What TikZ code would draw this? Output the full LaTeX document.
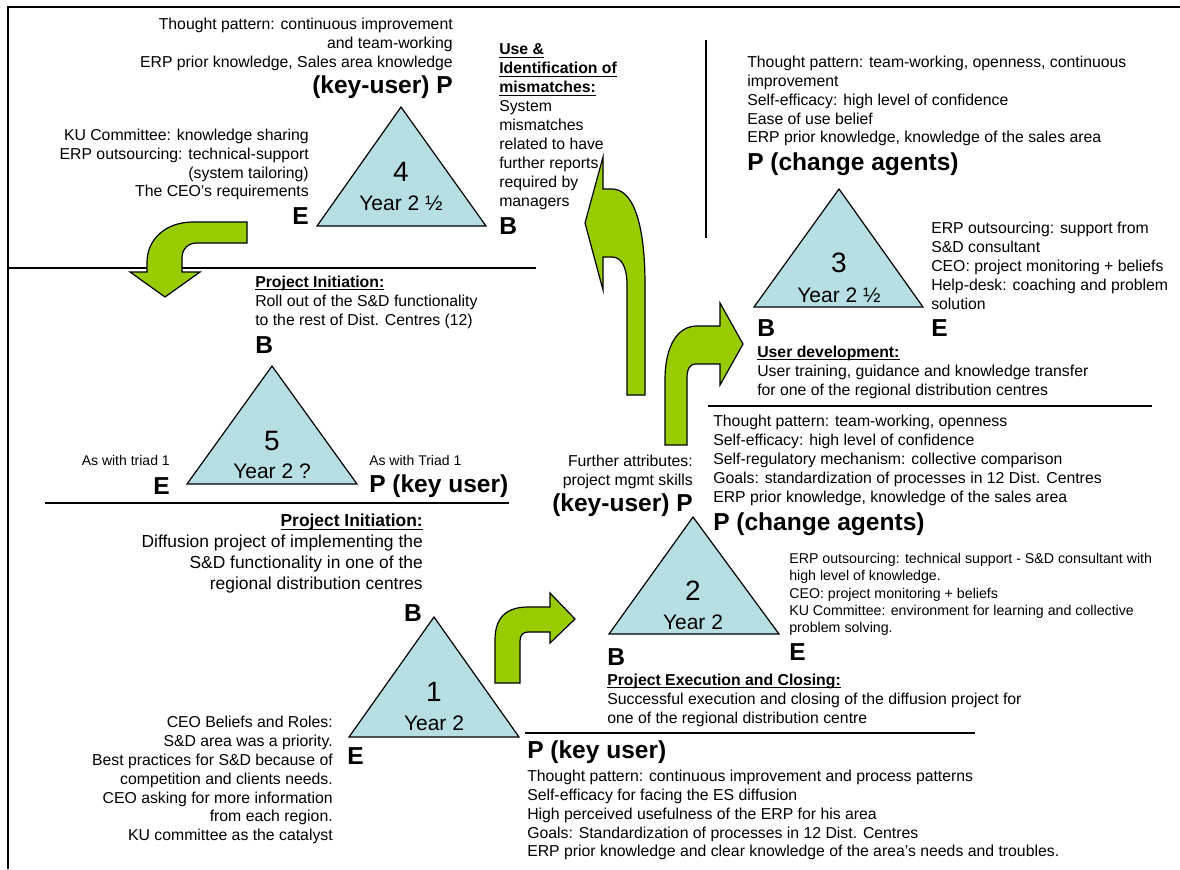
\documentclass[tikz,border=0pt]{standalone}
\usepackage{fontspec}
\setmainfont{Liberation Sans}
\newsavebox{\hdrbox}
\newcommand{\hdr}[1]{\sbox{\hdrbox}{\textbf{#1}}\rlap{\rule[-2.3pt]{\wd\hdrbox}{0.75pt}}\usebox{\hdrbox}}
\definecolor{tri}{RGB}{183,222,226}
\definecolor{grn}{RGB}{153,204,0}
\begin{document}
\begin{tikzpicture}[x=0.75pt,y=-0.75pt,
  txt/.style={inner sep=0pt, font=\fontsize{11.85}{14.2}\selectfont},
  sml/.style={inner sep=0pt, font=\fontsize{10.65}{12.9}\selectfont},
  tny/.style={inner sep=0pt, font=\fontsize{10.5}{12.6}\selectfont},
  lrg/.style={inner sep=0pt, font=\fontsize{13.05}{15.75}\selectfont},
  big/.style={inner sep=0pt, font=\fontsize{18.4}{22}\selectfont\bfseries},
  dig/.style={inner sep=0pt, font=\fontsize{21}{25}\selectfont},
  yr/.style={inner sep=0pt, font=\fontsize{15.75}{19}\selectfont},
  triad/.style={draw=black, line width=0.9pt, fill=tri, line join=miter},
  barrow/.style={draw=black, line width=0.9pt, fill=grn, line join=miter},
  sepline/.style={line width=1.1pt},
  frameline/.style={line width=1.7pt},
]
\useasboundingbox (0,0) rectangle (1180,869);
% frame
\coordinate (fa) at (8,869); \coordinate (fb) at (8,7); \coordinate (fc) at (1180,7);
\draw[frameline] (fa) -- (fb) -- (fc);
% separators
\coordinate (s1a) at (8,268);   \coordinate (s1b) at (536,268);
\coordinate (s2a) at (706,40);  \coordinate (s2b) at (706,238);
\coordinate (s3a) at (708,406); \coordinate (s3b) at (1152,406);
\coordinate (s4a) at (45,503);  \coordinate (s4b) at (509,503);
\coordinate (s5a) at (525,733); \coordinate (s5b) at (975,733);
\draw[sepline] (s1a) -- (s1b);
\draw[sepline] (s2a) -- (s2b);
\draw[sepline] (s3a) -- (s3b);
\draw[sepline] (s4a) -- (s4b);
\draw[sepline] (s5a) -- (s5b);

% green arrows
\draw[barrow] (247,222) -- (193,222) .. controls (165,222) and (147,240) .. (147,262) -- (147,272) -- (130,272) -- (165,297) -- (200,272) -- (182,272) -- (182,258) .. controls (182,249) and (188,243) .. (197,243) -- (247,243) -- cycle;
\draw[barrow] (645,395) -- (645,285) .. controls (645,220) and (632,189) .. (612,189) -- (603,189) -- (603,157) -- (585,223) -- (603,290) -- (603,257) -- (612,257) .. controls (622,257) and (627,268) .. (627,285) -- (627,395) -- cycle;
\draw[barrow] (495,683) -- (495,640) .. controls (495,618) and (506,607) .. (528,607) -- (550,607) -- (550,593) -- (575,619) -- (550,643) -- (550,632) -- (528,632) .. controls (523,632) and (520,635) .. (520,641) -- (520,683) -- cycle;
\draw[barrow] (665,445) -- (665,380) .. controls (665,345) and (678,326) .. (697,326) -- (720,326) -- (720,303) -- (743,344) -- (720,385) -- (720,364) -- (695,364) .. controls (690,364) and (687,369) .. (687,378) -- (687,445) -- cycle;

% ---------- Triad 4 ----------
\coordinate (t4a) at (401,107); \coordinate (t4l) at (317,226); \coordinate (t4r) at (486,226);
\draw[triad] (t4a) -- (t4r) -- (t4l) -- cycle;
\node[dig] (n4) at (401,172) {4};
\node[yr] (y4) at (401,203) {Year 2 ½};
\node[txt, anchor=east, align=right] (t4ptxt) at (453,44) {Thought pattern: continuous improvement\\and team-working\\ERP prior knowledge, Sales area knowledge};
\node[big, anchor=east] (t4p) at (453,87) {(key-user) P};
\node[txt, anchor=east, align=right] (t4etxt) at (309,164.5) {KU Committee: knowledge sharing\\ERP outsourcing: technical-support\\(system tailoring)\\The CEO’s requirements};
\node[big, anchor=east] (t4e) at (309,216) {E};
\node[big, anchor=west] (t4b) at (499,226) {B};
\node[txt, anchor=west, align=left] (t4btxt) at (499,126.5) {\hdr{Use \&}\\\hdr{Identification of}\\\hdr{mismatches:}\\System\\mismatches\\related to have\\further reports\\required by\\managers};

% ---------- Triad 3 ----------
\coordinate (t3a) at (839,189); \coordinate (t3l) at (754,307); \coordinate (t3r) at (923,307);
\draw[triad] (t3a) -- (t3r) -- (t3l) -- cycle;
\node[dig] (n3) at (839,263) {3};
\node[yr] (y3) at (839,295) {Year 2 ½};
\node[txt, anchor=west, align=left] (t3ptxt) at (747,101) {Thought pattern: team-working, openness, continuous\\improvement\\Self-efficacy: high level of confidence\\Ease of use belief\\ERP prior knowledge, knowledge of the sales area};
\node[big, anchor=west] (t3p) at (747,164) {P (change agents)};
\node[txt, anchor=west, align=left] (t3etxt) at (931,265.5) {ERP outsourcing: support from\\S\&D consultant\\CEO: project monitoring + beliefs\\Help-desk: coaching and problem\\solution};
\node[big, anchor=west] (t3b) at (757,328) {B};
\node[big, anchor=west] (t3e) at (931,328) {E};
\node[txt, anchor=west, align=left] (t3btxt) at (757,372) {\hdr{User development:}\\User training, guidance and knowledge transfer\\for one of the regional distribution centres};

% ---------- Triad 2 ----------
\coordinate (t2a) at (693,517); \coordinate (t2l) at (609,634); \coordinate (t2r) at (779,634);
\draw[triad] (t2a) -- (t2r) -- (t2l) -- cycle;
\node[dig] (n2) at (693,591) {2};
\node[yr] (y2) at (693,622) {Year 2};
\node[txt, anchor=west, align=left] (t2ptxt) at (713,460.5) {Thought pattern: team-working, openness\\Self-efficacy: high level of confidence\\Self-regulatory mechanism: collective comparison\\Goals: standardization of processes in 12 Dist. Centres\\ERP prior knowledge, knowledge of the sales area};
\node[big, anchor=west] (t2p) at (713,524) {P (change agents)};
\node[txt, anchor=east, align=right] (t2ktxt) at (693,471.5) {Further attributes:\\project mgmt skills};
\node[big, anchor=east] (t2k) at (693,505) {(key-user) P};
\node[sml, anchor=west, align=left] (t2etxt) at (789,594.5) {ERP outsourcing: technical support - S\&D consultant with\\high level of knowledge.\\CEO: project monitoring + beliefs\\KU Committee: environment for learning and collective\\problem solving.};
\node[big, anchor=west] (t2b) at (607,657) {B};
\node[big, anchor=west] (t2e) at (789,652) {E};
\node[txt, anchor=west, align=left] (t2btxt) at (607,700) {\hdr{Project Execution and Closing:}\\Successful execution and closing of the diffusion project for\\one of the regional distribution centre};

% ---------- Triad 1 ----------
\coordinate (t1a) at (434,617); \coordinate (t1l) at (349,737); \coordinate (t1r) at (519,737);
\draw[triad] (t1a) -- (t1r) -- (t1l) -- cycle;
\node[dig] (n1) at (434,692) {1};
\node[yr] (y1) at (434,723) {Year 2};
\node[lrg, anchor=east, align=right] (t1btxt) at (423,553.5) {\hdr{Project Initiation:}\\Diffusion project of implementing the\\S\&D functionality in one of the\\regional distribution centres};
\node[big, anchor=east] (t1b) at (422,613) {B};
\node[txt, anchor=east, align=right] (t1etxt) at (333,780) {CEO Beliefs and Roles:\\S\&D area was a priority.\\Best practices for S\&D because of\\competition and clients needs.\\CEO asking for more information\\from each region.\\KU committee as the catalyst};
\node[big, anchor=west] (t1e) at (347,756) {E};
\node[big, anchor=west] (t1p) at (527,752) {P (key user)};
\node[txt, anchor=west, align=left] (t1ptxt) at (527,815) {Thought pattern: continuous improvement and process patterns\\Self-efficacy for facing the ES diffusion\\High perceived usefulness of the ERP for his area\\Goals: Standardization of processes in 12 Dist. Centres\\ERP prior knowledge and clear knowledge of the area’s needs and troubles.};

% ---------- Triad 5 ----------
\coordinate (t5a) at (272,366); \coordinate (t5l) at (187,484); \coordinate (t5r) at (357,484);
\draw[triad] (t5a) -- (t5r) -- (t5l) -- cycle;
\node[dig] (n5) at (272,441) {5};
\node[yr] (y5) at (272,471) {Year 2 ?};
\node[txt, anchor=west, align=left] (t5btxt) at (255,302) {\hdr{Project Initiation:}\\Roll out of the S\&D functionality\\to the rest of Dist. Centres (12)};
\node[big, anchor=west] (t5b) at (255,345) {B};
\node[tny, anchor=east] (t5etxt) at (170,460) {As with triad 1};
\node[big, anchor=east] (t5e) at (170,486) {E};
\node[tny, anchor=west] (t5ptxt) at (369,460) {As with Triad 1};
\node[big, anchor=west] (t5p) at (369,486) {P (key user)};
\end{tikzpicture}
\end{document}
